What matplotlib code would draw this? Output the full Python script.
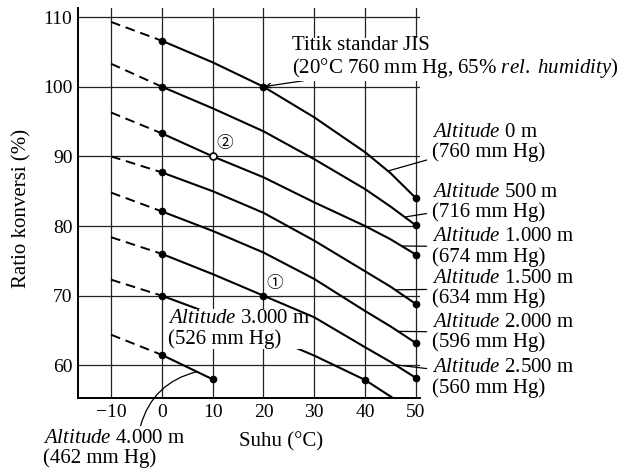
import numpy as np
import matplotlib
matplotlib.use("Agg")
import matplotlib.pyplot as plt

plt.rcParams['font.family'] = ['Liberation Serif', 'Noto Sans CJK JP']
plt.rcParams['mathtext.fontset'] = 'custom'
plt.rcParams['mathtext.rm'] = 'Liberation Serif'
plt.rcParams['mathtext.it'] = 'Liberation Serif:italic'
plt.rcParams['mathtext.bf'] = 'Liberation Serif:bold'

# temperatures (deg C) and conversion ratio (%) per altitude
temps = [0, 10, 20, 30, 40, 45, 50]
alt_names = ['0 m', '500 m', '1.000 m', '1.500 m', '2.000 m', '2.500 m']
alt_hg = ['760', '716', '674', '634', '596', '560']
ratio_0 = [106.6, 103.5, 100.0, 95.6, 90.6, 87.6, 84.0]
ratio_500 = [100.0, 96.9, 93.6, 89.6, 85.3, 82.8, 80.1]
ratio_1000 = [93.3, 90.0, 87.0, 83.4, 80.0, 78.1, 75.9]
ratio_1500 = [87.7, 85.0, 81.9, 77.9, 73.5, 71.3, 68.8]
ratio_2000 = [82.1, 79.3, 76.2, 72.4, 67.8, 65.6, 63.2]
ratio_2500 = [76.0, 73.1, 70.0, 66.9, 62.6, 60.5, 58.2]
temps_3000 = [0, 10, 20, 30, 40, 45.5]
ratio_3000 = [70.0, 67.3, 64.5, 61.4, 57.9, 55.3]
temps_4000 = [0, 10]
ratio_4000 = [61.5, 58.0]
# value at -10 deg C (dashed extrapolation), same order as all curves
ratio_m10 = [109.3, 103.3, 96.3, 90.0, 84.8, 78.4, 72.3, 64.4]

# leader start temperatures for the right-hand labels
leader_t = [44.5, 47.8, 47.2, 45.9, 46.5, 45.9]
label_y = [92.0, 83.4, 77.0, 71.0, 64.7, 58.2]

FS = 15

fig = plt.figure(figsize=(6.24, 4.70), dpi=100)
ax = fig.add_axes([0.125, 0.153, 0.548, 0.830])
ax.set_xlim(-16.5, 50.8)
ax.set_ylim(55.3, 111.3)

for sp in ['top', 'right']:
    ax.spines[sp].set_visible(False)
for sp in ['left', 'bottom']:
    ax.spines[sp].set_linewidth(1.4)

ax.set_xticks(range(-10, 51, 10))
ax.set_yticks(range(60, 111, 10))
ax.tick_params(length=0, labelsize=14, pad=4)
for v in range(-10, 51, 10):
    ax.axvline(v, color='#222222', lw=0.9, zorder=1)
for v in range(60, 111, 10):
    ax.axhline(v, color='#222222', lw=0.9, zorder=1)

full = [ratio_0, ratio_500, ratio_1000, ratio_1500, ratio_2000, ratio_2500]
curves = [(temps, r) for r in full] + [(temps_3000, ratio_3000), (temps_4000, ratio_4000)]

for i, (t, r) in enumerate(curves):
    ax.plot([-10, 0], [ratio_m10[i], r[0]], color='black', lw=1.4,
            linestyle=(0, (5, 3)), zorder=2)
    ax.plot(t, r, color='black', lw=1.5, zorder=4 if i == 5 else 2)
    ax.plot(t[0], r[0], 'o', color='black', ms=4.5, zorder=4)
    if i < 6:
        ax.plot(t[-1], r[-1], 'o', color='black', ms=4.5, zorder=4)
ax.plot(temps_3000[4], ratio_3000[4], 'o', color='black', ms=4.5, zorder=4)
ax.plot(temps_4000[-1], ratio_4000[-1], 'o', color='black', ms=4.5, zorder=4)

# JIS standard point and example points
ax.plot(temps[2], ratio_0[2], 'o', color='black', ms=4.5, zorder=4)
ax.plot(temps[1], ratio_1000[1], 'o', mfc='white', mec='black', ms=5, mew=1.2, zorder=4)
ax.plot(temps[2], ratio_2500[2], 'o', color='black', ms=4.5, zorder=4)
ax.text(12.3, 91.8, '②', fontsize=12, ha='center', va='center',
        family=['Noto Sans CJK JP', 'DejaVu Sans'], zorder=5)
ax.text(22.3, 71.8, '①', fontsize=12, ha='center', va='center',
        family=['Noto Sans CJK JP', 'DejaVu Sans'], zorder=5)

ax.annotate('Titik standar JIS\n(20°C 760 mm Hg, 65% $\\mathit{rel.\\ humidity}$)',
            xy=(temps[2], ratio_0[2]), xytext=(25.6, 104.1),
            fontsize=FS, ha='left', va='center', linespacing=1.05,
            annotation_clip=False,
            bbox=dict(facecolor='white', edgecolor='none', pad=0.5),
            arrowprops=dict(arrowstyle='->', color='black', lw=0.9,
                            shrinkA=0, shrinkB=1, mutation_scale=8),
            zorder=5)

for i in range(6):
    ly = np.interp(leader_t[i], temps, full[i])
    ax.annotate('$\\mathit{Altitude}$ ' + alt_names[i] + '\n(' + alt_hg[i] + ' mm Hg)',
                xy=(leader_t[i], ly), xytext=(53.2, label_y[i]),
                fontsize=FS, ha='left', va='center', linespacing=1.05,
                annotation_clip=False,
                arrowprops=dict(arrowstyle='-', color='black', lw=0.9,
                                shrinkA=2, shrinkB=0))

ax.text(1.2, 65.2, '$\\mathit{Altitude}$ 3.000 m\n(526 mm Hg)', fontsize=FS,
        ha='left', va='center', linespacing=1.05, zorder=3,
        bbox=dict(facecolor='white', edgecolor='none', pad=0.2))

ax.annotate('$\\mathit{Altitude}$ 4.000 m\n(462 mm Hg)',
            xy=(6.9, np.interp(6.9, temps_4000, ratio_4000)), xytext=(-23.4, 48.1),
            fontsize=FS, ha='left', va='center', linespacing=1.05,
            annotation_clip=False,
            arrowprops=dict(arrowstyle='-', color='black', lw=0.9,
                            shrinkA=0, shrinkB=0, relpos=(0.68, 1.0),
                            connectionstyle='arc3,rad=-0.3'))

ax.text(23.4, 49.0, 'Suhu (°C)', fontsize=FS, ha='center', va='center',
        clip_on=False)
fig.text(22 / 624, 1 - 208 / 470, 'Ratio konversi (%)', fontsize=FS,
         rotation=90, ha='center', va='center')

fig.savefig('out.png', dpi=100)
